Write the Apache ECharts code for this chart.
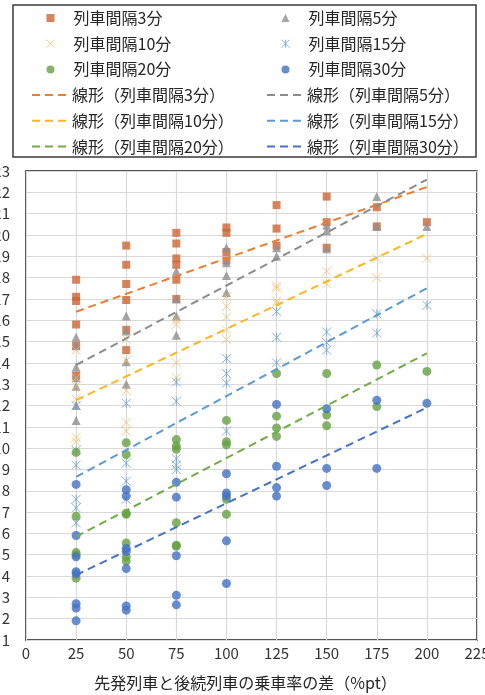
<!DOCTYPE html>
<html>
<head>
<meta charset="utf-8">
<script src="https://cdn.jsdelivr.net/npm/echarts@6/dist/echarts.min.js"></script>
<style>
  html, body { margin: 0; padding: 0; background: #ffffff; }
  #chart { width: 485px; height: 695px; }
</style>
</head>
<body>
<div id="chart"></div>
<script>
// x positions (乗車率の差, %pt)
const xValues = [25, 50, 75, 100, 125, 150, 175, 200];

// observed values, one inner list per x position
const interval3 = [
  [17.9, 17.1, 16.9, 15.8, 14.8, 13.4],
  [19.5, 18.6, 17.7, 16.95, 15.55, 14.6],
  [20.1, 19.6, 18.9, 18.6, 17.9, 17.0],
  [20.35, 20.1, 19.2, 18.8],
  [21.4, 20.3, 19.5],
  [21.8, 20.6, 19.4],
  [21.3, 20.4],
  [20.6]
];
const interval5 = [
  [15.2, 14.8, 13.8, 13.3, 12.9, 12.0, 11.3],
  [16.2, 15.5, 14.05, 13.0],
  [18.3, 17.0, 16.2, 15.3],
  [19.4, 18.7, 18.1, 17.3],
  [19.4, 19.0],
  [20.45, 20.2, 19.35],
  [21.8, 20.4],
  [20.4]
];
const interval10 = [
  [14.6, 13.3, 12.9, 12.3, 10.5, 10.3],
  [15.1, 14.1, 12.7, 11.2, 10.8],
  [16.0, 15.8, 14.0, 13.3],
  [17.1, 16.65, 16.15, 15.55, 15.1],
  [17.6, 17.5, 16.9, 16.8],
  [18.3, 17.7],
  [18.9, 18.0],
  [18.9]
];
const interval15 = [
  [12.0, 9.9, 9.2, 7.6, 7.2, 6.5],
  [12.1, 9.3, 8.45, 7.6],
  [13.1, 12.2, 9.5, 9.2, 9.0],
  [14.2, 13.5, 13.05, 10.8],
  [16.4, 15.2, 14.0],
  [15.45, 14.95, 14.6],
  [16.3, 15.4],
  [16.7]
];
const interval20 = [
  [9.8, 6.8, 5.1, 5.0, 3.9],
  [10.25, 9.7, 6.95, 6.9, 5.55, 4.9, 4.7],
  [10.4, 10.1, 9.95, 6.5, 5.45, 5.4],
  [11.3, 10.3, 10.15, 7.6, 6.9],
  [13.5, 11.5, 10.95, 10.55],
  [13.5, 11.55, 11.05],
  [13.9, 11.95],
  [13.6]
];
const interval30 = [
  [8.3, 5.9, 4.9, 4.2, 4.1, 2.7, 2.5, 1.9],
  [8.05, 7.75, 5.3, 5.15, 4.35, 2.6, 2.4],
  [8.4, 7.7, 4.95, 3.1, 2.65],
  [8.8, 7.9, 7.75, 5.65, 3.65],
  [12.05, 9.15, 8.15, 7.75],
  [11.85, 9.05, 8.25],
  [12.25, 9.05],
  [12.1]
];

// linear trend lines: value at x = 25 and at x = 200
const trendX = [25, 200];
const trend3 = [16.4, 22.25];
const trend5 = [13.9, 22.6];
const trend10 = [12.25, 20.05];
const trend15 = [8.65, 17.5];
const trend20 = [5.85, 14.45];
const trend30 = [4.05, 11.9];

// axis ticks
const xTicks = { min: 0, max: 225, step: 25 };
const yTicks = { min: 1, max: 23, step: 1 };

const names = ['列車間隔3分', '列車間隔5分', '列車間隔10分', '列車間隔15分', '列車間隔20分', '列車間隔30分'];
const trendNames = names.map(n => '線形（' + n + '）');

function toPoints(groups) {
  const pts = [];
  groups.forEach((vals, i) => vals.forEach(v => pts.push([xValues[i], v])));
  return pts;
}
function toLine(ends) {
  return ends.map((v, i) => [trendX[i], v]);
}

const crossPath = 'path://M0,0L10,10M10,0L0,10';
const asteriskPath = 'path://M0,0L10,10M10,0L0,10M5,0L5,10';
// dashed legend key for the trend lines
const dashKey = 'path://M0,0h8v2h-8zM13,0h8v2h-8zM26,0h8v2h-8z';

const scatterDefs = [
  { data: interval3, symbol: 'rect', size: 8, style: { color: '#CB6533' } },
  { data: interval5, symbol: 'triangle', size: 9, style: { color: '#8E8E8E' } },
  { data: interval10, symbol: crossPath, size: 9, style: { color: 'rgba(0,0,0,0)', borderColor: '#F2BE5E', borderWidth: 1 } },
  { data: interval15, symbol: asteriskPath, size: 9, style: { color: 'rgba(0,0,0,0)', borderColor: '#6C9FD3', borderWidth: 1 } },
  { data: interval20, symbol: 'circle', size: 9, style: { color: '#66A043' } },
  { data: interval30, symbol: 'circle', size: 9, style: { color: '#4472C4' } }
];
const trendDefs = [
  { data: trend3, color: '#ED7D31' },
  { data: trend5, color: '#8C8C8C' },
  { data: trend10, color: '#FFB51E' },
  { data: trend15, color: '#5B9BD5' },
  { data: trend20, color: '#70AD47' },
  { data: trend30, color: '#4472C4' }
];

const series = [];
scatterDefs.forEach((d, i) => {
  series.push({
    name: names[i],
    type: 'scatter',
    data: toPoints(d.data),
    symbol: d.symbol,
    symbolSize: d.size,
    itemStyle: d.style,
    z: 2 + i * 0.01,
    silent: true
  });
});
trendDefs.forEach((d, i) => {
  series.push({
    name: trendNames[i],
    type: 'line',
    data: toLine(d.data),
    symbol: 'none',
    showSymbol: false,
    lineStyle: { color: d.color, width: 2, type: [8, 5] },
    itemStyle: { color: d.color },
    z: 3,
    silent: true
  });
});

const FONT = '"Noto Sans CJK JP", "Noto Sans", sans-serif';
const PITCH = 25.7;
const TEXT_H = 16;

function scatterLegend(left, idx) {
  return {
    orient: 'vertical', left: left, top: 10, padding: 0,
    itemWidth: 8, itemHeight: 8, itemGap: PITCH - TEXT_H,
    selectedMode: false,
    textStyle: { fontFamily: FONT, fontSize: 16, lineHeight: TEXT_H, color: '#262626', padding: [0, 0, 0, 14] },
    data: idx.map(i => {
      const item = { name: names[i] };
      if (i === 2 || i === 3) item.itemStyle = { borderWidth: 1 };
      return item;
    })
  };
}
function trendLegend(left, idx) {
  return {
    orient: 'vertical', left: left, top: 10 + 3 * PITCH, padding: 0,
    itemWidth: 36, itemHeight: 2, itemGap: PITCH - TEXT_H,
    selectedMode: false,
    textStyle: { fontFamily: FONT, fontSize: 16, lineHeight: TEXT_H, color: '#262626' },
    data: idx.map(i => ({ name: trendNames[i], icon: dashKey, itemStyle: { color: trendDefs[i].color } }))
  };
}

const chart = echarts.init(document.getElementById('chart'), null, { renderer: 'canvas' });
chart.setOption({
  animation: false,
  backgroundColor: '#ffffff',
  textStyle: { fontFamily: FONT },
  graphic: [{
    type: 'rect',
    shape: { x: 13, y: 5, width: 463, height: 152 },
    style: { fill: 'none', stroke: '#3a3a3a', lineWidth: 1.5 },
    z: 0
  }],
  legend: [
    scatterLegend(46, [0, 2, 4]),
    scatterLegend(281, [1, 3, 5]),
    trendLegend(32, [0, 2, 4]),
    trendLegend(267, [1, 3, 5])
  ],
  grid: {
    left: 26, right: 8, top: 171, bottom: 55,
    show: true, borderColor: '#1a1a1a', borderWidth: 1.5,
    containLabel: false,
    outerBoundsMode: 'none'
  },
  xAxis: {
    type: 'value',
    min: xTicks.min, max: xTicks.max, interval: xTicks.step,
    axisLine: { show: false },
    axisTick: { show: false },
    splitLine: { show: true, lineStyle: { color: '#D9D9D9', width: 1.2 } },
    axisLabel: { fontFamily: FONT, fontSize: 15, color: '#333333', margin: 6, showMaxLabel: true },
    name: '先発列車と後続列車の乗車率の差（%pt）',
    nameLocation: 'middle',
    nameGap: 35,
    nameTextStyle: { fontFamily: FONT, fontSize: 16, color: '#262626', padding: [0, 12, 0, 0] }
  },
  yAxis: {
    type: 'value',
    min: yTicks.min, max: yTicks.max, interval: yTicks.step,
    axisLine: { show: false },
    axisTick: { show: false },
    splitLine: { show: true, lineStyle: { color: '#D9D9D9', width: 1.2 } },
    axisLabel: { fontFamily: FONT, fontSize: 15, color: '#333333', margin: 16 }
  },
  series: series
});
</script>
</body>
</html>
